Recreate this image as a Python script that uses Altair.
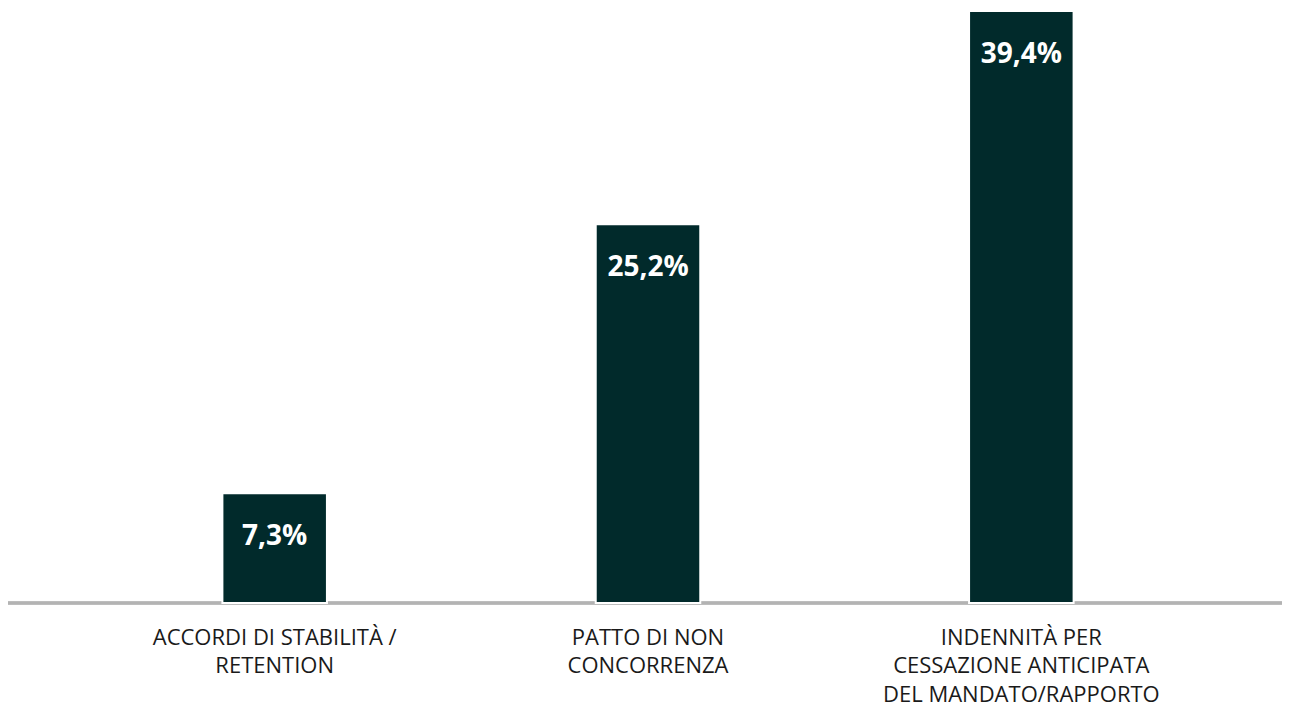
import altair as alt
import pandas as pd

categories = [
    "ACCORDI DI STABILITÀ /\nRETENTION",
    "PATTO DI NON\nCONCORRENZA",
    "INDENNITÀ PER\nCESSAZIONE ANTICIPATA\nDEL MANDATO/RAPPORTO",
]
values = [7.3, 25.2, 39.4]

df = pd.DataFrame({"cat": categories, "val": values})

x_enc = alt.X(
    "cat:N",
    sort=None,
    title=None,
    scale=alt.Scale(paddingInner=0.72, paddingOuter=0.36),
    axis=alt.Axis(
        labelAngle=0,
        labelFont="Open Sans",
        labelFontSize=22,
        labelLineHeight=28.5,
        labelColor="#1a1a1a",
        labelPadding=24,
        labelLimit=0,
        labelExpr="split(datum.label, '\\n')",
        domain=False,
        ticks=False,
        grid=False,
    ),
)
y_enc = alt.Y("val:Q", title=None, axis=None, scale=alt.Scale(domain=[0, 39.6], nice=False))

base = alt.Chart(df)

rule = base.mark_rule(color="#b3b3b3", strokeWidth=3).encode(
    x=alt.value(-80), x2=alt.value(1194), y=alt.value(595)
)

bars = base.mark_bar(color="#012a2b", stroke="white", strokeWidth=2).encode(x=x_enc, y=y_enc)

labels = base.mark_text(
    dy=44, baseline="middle", color="white", font="Open Sans", fontSize=28, fontWeight="bold"
).transform_calculate(
    lab="replace(format(datum.val, '.1f'), '.', ',') + '%'"
).encode(x=x_enc, y=y_enc, text="lab:N")

chart = (
    alt.layer(rule, bars, labels)
    .properties(
        width=1120,
        height=595,
        autosize=alt.AutoSizeParams(type="none"),
        padding={"left": 80, "top": 0, "right": 74, "bottom": 105},
    )
    .configure_view(stroke=None)
)

chart.save("out.html", embed_options={"renderer": "svg", "actions": False})
